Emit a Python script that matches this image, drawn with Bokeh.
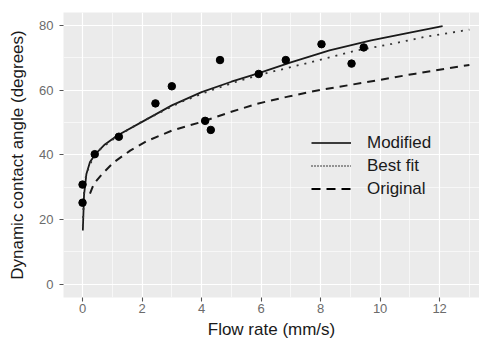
import numpy as np
from bokeh.plotting import figure
from bokeh.models import (Range1d, SingleIntervalTicker, Legend, LegendItem,
                          ColumnDataSource)
from bokeh.embed import file_html
from bokeh.resources import INLINE

# ---- data ----
obs_x = [0.0, 0.0, 0.41, 1.22, 2.45, 3.0, 4.12, 4.31, 4.62, 5.92, 6.83, 8.03, 9.04, 9.45]
obs_y = [25.2, 30.8, 40.2, 45.6, 55.9, 61.2, 50.5, 47.7, 69.3, 65.0, 69.3, 74.2, 68.2, 73.2]

modified_x = [0.01, 0.05, 0.13, 0.25, 0.44, 0.75, 1.17, 2.0, 3.0, 4.0, 5.0, 5.9, 7.0, 8.3, 9.7, 11.0, 12.1]
modified_y = [16.6, 27.5, 34.1, 37.8, 40.3, 43.2, 46.0, 50.2, 55.3, 59.4, 62.6, 65.2, 68.6, 72.3, 75.4, 77.8, 79.8]

bestfit_x = [0.01, 0.05, 0.12, 0.3, 0.6, 1.2, 2.0, 3.3, 4.3, 5.3, 6.15, 7.66, 9.23, 10.4, 11.47, 13.0]
bestfit_y = [18.0, 28.5, 34.0, 38.0, 41.8, 46.0, 50.3, 56.3, 59.9, 63.0, 65.2, 68.6, 72.3, 74.3, 76.4, 78.7]

original_x = [0.25, 0.38, 0.66, 1.05, 1.6, 2.17, 3.0, 3.97, 5.0, 5.87, 6.9, 7.89, 9.5, 11.19, 13.0]
original_y = [28.0, 31.0, 34.1, 37.7, 41.3, 44.3, 47.5, 50.1, 53.3, 55.8, 58.0, 59.9, 62.4, 65.1, 67.8]

x_ticks = [0, 2, 4, 6, 8, 10, 12]
y_ticks = [0, 20, 40, 60, 80]

FONT = "Liberation Sans"

p = figure(width=479, height=342, output_backend="svg", toolbar_location=None,
           x_range=Range1d(-0.64, 13.34), y_range=Range1d(-4.1, 84.0),
           min_border_left=63, min_border_right=0, min_border_top=12,
           min_border_bottom=45)
p.background_fill_color = "#EBEBEB"
p.border_fill_color = "white"
p.outline_line_color = None

p.xaxis.ticker = SingleIntervalTicker(interval=x_ticks[1] - x_ticks[0], num_minor_ticks=2)
p.yaxis.ticker = SingleIntervalTicker(interval=y_ticks[1] - y_ticks[0], num_minor_ticks=2)

for g in (p.xgrid, p.ygrid):
    g.grid_line_color = "white"
    g.grid_line_width = 1.2
    g.minor_grid_line_color = "white"
    g.minor_grid_line_width = 0.6

for ax in (p.xaxis, p.yaxis):
    ax.axis_line_color = None
    ax.major_tick_line_color = "#555555"
    ax.major_tick_line_width = 1.1
    ax.major_tick_out = 4
    ax.major_tick_in = 0
    ax.minor_tick_line_color = None
    ax.major_label_text_font = FONT
    ax.major_label_text_font_size = "13px"
    ax.major_label_text_color = "#6b6b6b"
    ax.axis_label_text_font = FONT
    ax.axis_label_text_font_size = "17px"
    ax.axis_label_text_font_style = "normal"
    ax.axis_label_text_color = "#1a1a1a"

p.xaxis.major_label_standoff = 2
p.yaxis.major_label_standoff = 6
p.xaxis.axis_label_standoff = 4
p.yaxis.axis_label_standoff = 9
p.xaxis.axis_label = "Flow rate (mm/s)"
p.yaxis.axis_label = "Dynamic contact angle (degrees)"

p.line(modified_x, modified_y, line_color="#1a1a1a", line_width=1.8)
p.line(bestfit_x, bestfit_y, line_color="#333333", line_width=1.8, line_dash="2 6")
p.line(original_x, original_y, line_color="#1a1a1a", line_width=2.0, line_dash="8 6")
p.scatter(obs_x, obs_y, size=7.5, color="black")

# legend-only renderers (styled like the reference key)
nan_src = dict(x=[np.nan], y=[np.nan])
r_mod = p.line("x", "y", source=ColumnDataSource(nan_src), line_color="black", line_width=1.4)
r_best = p.line("x", "y", source=ColumnDataSource(nan_src), line_color="black", line_width=1.4, line_dash="1 2")
r_orig = p.line("x", "y", source=ColumnDataSource(nan_src), line_color="black", line_width=2.0, line_dash="9 6")

legend = Legend(items=[LegendItem(label="Modified", renderers=[r_mod]),
                       LegendItem(label="Best fit", renderers=[r_best]),
                       LegendItem(label="Original", renderers=[r_orig])],
                location=(248, 97))
legend.background_fill_alpha = 0
legend.border_line_color = None
legend.padding = 0
legend.margin = 0
legend.spacing = 0
legend.glyph_width = 40
legend.glyph_height = 23
legend.label_height = 23
legend.label_standoff = 16
legend.label_text_font = FONT
legend.label_text_font_size = "17px"
legend.label_text_color = "#1a1a1a"
p.add_layout(legend)

open("out.html", "w").write(file_html(p, INLINE))
